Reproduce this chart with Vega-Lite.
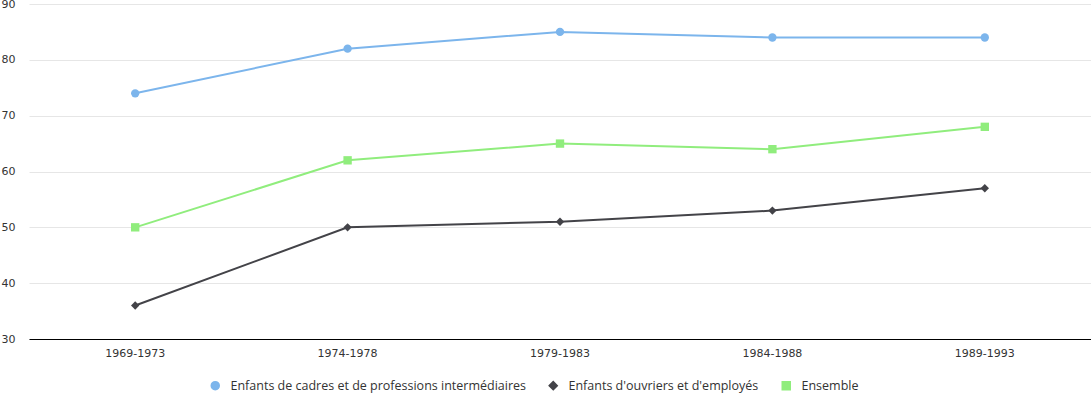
{
  "$schema": "https://vega.github.io/schema/vega-lite/v6.json",
  "width": 1062,
  "height": 335,
  "autosize": {"type": "none"},
  "padding": {"left": 29, "top": 4, "right": 0, "bottom": 54},
  "background": "white",
  "config": {
    "view": {"stroke": null},
    "font": "DejaVu Sans"
  },
  "data": {
    "values": [
      {"periode": "1969-1973", "serie": "Enfants de cadres et de professions intermédiaires", "valeur": 74},
      {"periode": "1974-1978", "serie": "Enfants de cadres et de professions intermédiaires", "valeur": 82},
      {"periode": "1979-1983", "serie": "Enfants de cadres et de professions intermédiaires", "valeur": 85},
      {"periode": "1984-1988", "serie": "Enfants de cadres et de professions intermédiaires", "valeur": 84},
      {"periode": "1989-1993", "serie": "Enfants de cadres et de professions intermédiaires", "valeur": 84},
      {"periode": "1969-1973", "serie": "Enfants d'ouvriers et d'employés", "valeur": 36},
      {"periode": "1974-1978", "serie": "Enfants d'ouvriers et d'employés", "valeur": 50},
      {"periode": "1979-1983", "serie": "Enfants d'ouvriers et d'employés", "valeur": 51},
      {"periode": "1984-1988", "serie": "Enfants d'ouvriers et d'employés", "valeur": 53},
      {"periode": "1989-1993", "serie": "Enfants d'ouvriers et d'employés", "valeur": 57},
      {"periode": "1969-1973", "serie": "Ensemble", "valeur": 50},
      {"periode": "1974-1978", "serie": "Ensemble", "valeur": 62},
      {"periode": "1979-1983", "serie": "Ensemble", "valeur": 65},
      {"periode": "1984-1988", "serie": "Ensemble", "valeur": 64},
      {"periode": "1989-1993", "serie": "Ensemble", "valeur": 68}
    ]
  },
  "encoding": {
    "x": {
      "field": "periode",
      "type": "ordinal",
      "scale": {"type": "band", "paddingInner": 0, "paddingOuter": 0},
      "axis": {
        "title": null,
        "labelAngle": 0,
        "labelFontSize": 11,
        "labelColor": "#333333",
        "labelPadding": 8,
        "ticks": false,
        "domainColor": "#000000",
        "domainWidth": 1,
        "grid": false
      }
    },
    "y": {
      "field": "valeur",
      "type": "quantitative",
      "scale": {"domain": [30, 90], "nice": false, "zero": false},
      "axis": {
        "title": null,
        "values": [30, 40, 50, 60, 70, 80, 90],
        "labelFontSize": 11,
        "labelColor": "#333333",
        "labelPadding": 14,
        "ticks": false,
        "domain": false,
        "gridColor": "#e6e6e6",
        "gridWidth": 1
      }
    },
    "color": {
      "field": "serie",
      "type": "nominal",
      "scale": {
        "domain": ["Enfants de cadres et de professions intermédiaires", "Enfants d'ouvriers et d'employés", "Ensemble"],
        "range": ["#7cb5ec", "#434348", "#90ed7d"]
      },
      "legend": {
        "title": null,
        "orient": "none",
        "legendX": 180,
        "legendY": 375,
        "direction": "horizontal",
        "labelFont": "Open Sans",
        "labelFontSize": 12.5,
        "labelColor": "#333333",
        "labelLimit": 0,
        "columnPadding": 20,
        "symbolSize": 64,
        "labelOffset": 9
      }
    },
    "shape": {
      "field": "serie",
      "type": "nominal",
      "scale": {
        "domain": ["Enfants de cadres et de professions intermédiaires", "Enfants d'ouvriers et d'employés", "Ensemble"],
        "range": ["circle", "diamond", "square"]
      },
      "legend": null
    }
  },
  "layer": [
    {"mark": {"type": "line", "strokeWidth": 2}},
    {"mark": {"type": "point", "filled": true, "opacity": 1, "size": 70}}
  ]
}
